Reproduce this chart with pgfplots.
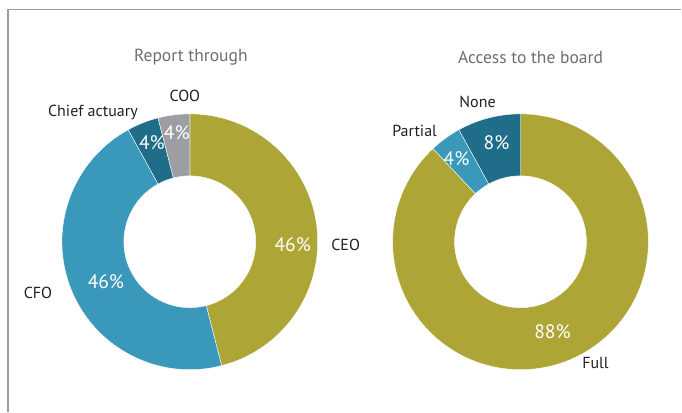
\documentclass[border=0pt]{standalone}
\usepackage{pgfplots}
\usepackage{pgfplotstable}
\pgfplotsset{compat=1.18}
\usepackage{fontspec}
\setmainfont{PT Sans}
\definecolor{olive}{HTML}{ADA536}
\definecolor{lblue}{HTML}{3A98BA}
\definecolor{dteal}{HTML}{1F6D89}
\definecolor{dgray}{HTML}{9C9EA1}
\definecolor{titlegray}{HTML}{6D6E71}
\definecolor{labelblack}{HTML}{231F20}

\pgfplotstableread{
label value color
CEO 46 olive
CFO 46 lblue
Chief 4 dteal
COO 4 dgray
}\reportdata
\pgfplotstableread{
label value color
Full 88 olive
Partial 4 lblue
None 8 dteal
}\boarddata

\newcommand{\drawdonut}[3]{%
  \pgfmathsetmacro\acc{90}%
  \pgfplotstablegetrowsof{#1}%
  \pgfmathtruncatemacro\nrows{\pgfplotsretval-1}%
  \pgfplotsforeachungrouped \i in {0,...,\nrows}{%
    \pgfplotstablegetelem{\i}{value}\of{#1}\let\v\pgfplotsretval
    \pgfplotstablegetelem{\i}{color}\of{#1}\let\c\pgfplotsretval
    \pgfmathsetmacro\aend{\acc-3.6*\v}%
    \edef\temp{\noexpand\fill[\c,draw=white,line width=0.4pt]
      ([shift={(\acc:128pt)}]axis cs:#2,#3)
      arc[start angle=\acc,end angle=\aend,radius=128pt]
      -- ([shift={(\aend:66pt)}]axis cs:#2,#3)
      arc[start angle=\aend,end angle=\acc,radius=66pt] -- cycle;}%
    \temp
    \global\let\acc\aend
  }%
}

\begin{document}
\begin{tikzpicture}
\begin{axis}[
  x=1pt, y=1pt, xmin=0, xmax=682, ymin=0, ymax=412,
  hide axis, clip=false, scale only axis,
]
\path (axis cs:0,0) rectangle (axis cs:682,412);
\draw[color=black!38, line width=1.3pt] (axis cs:682,402.5) -- (axis cs:8,402.5) -- (axis cs:8,0);

\drawdonut{\reportdata}{190}{170}
\drawdonut{\boarddata}{521}{170}

% titles
\node[font=\fontsize{17.5}{19}\selectfont, text=titlegray] at (axis cs:191,355) {Report through};
\node[font=\fontsize{17.5}{19}\selectfont, text=titlegray] at (axis cs:531,355) {Access to the board};

% percentage labels
\begin{scope}[every node/.style={font=\fontsize{19.5}{20}\selectfont, text=white}]
\node at (axis cs:293,167) {46\%};
\node at (axis cs:106,130) {46\%};
\node at (axis cs:152,269) {4\%};
\node at (axis cs:177,279) {4\%};
\node at (axis cs:553,80) {88\%};
\node at (axis cs:457,253) {4\%};
\node at (axis cs:497,269) {8\%};
\end{scope}

% outer labels
\begin{scope}[every node/.style={font=\fontsize{16}{17}\selectfont, text=labelblack}]
\node at (axis cs:346,167) {CEO};
\node at (axis cs:38,119) {CFO};
\node at (axis cs:93,299) {Chief actuary};
\node at (axis cs:185,316) {COO};
\node at (axis cs:415,281) {Partial};
\node at (axis cs:478,310) {None};
\node at (axis cs:596,49) {Full};
\end{scope}
\end{axis}
\end{tikzpicture}
\end{document}
